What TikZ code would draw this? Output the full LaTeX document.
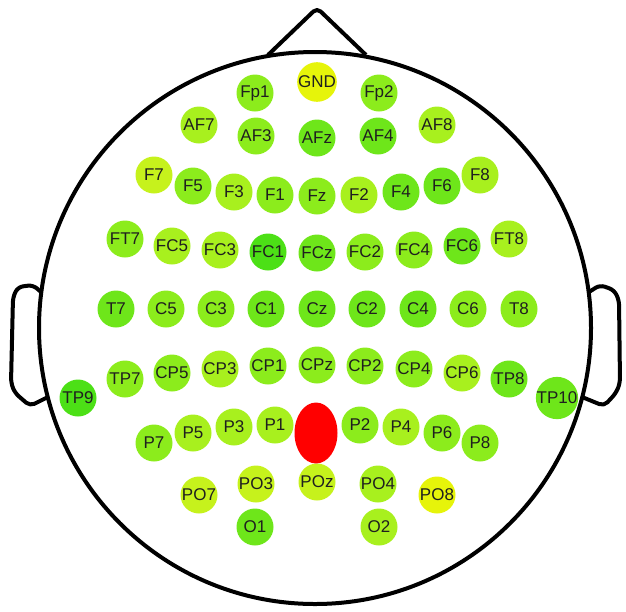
\documentclass[tikz,border=0pt]{standalone}
\usepackage{fontspec}
\setmainfont{Liberation Sans}
\usetikzlibrary{shapes.geometric}
\definecolor{lvA}{HTML}{4CE016}
\definecolor{lvB}{HTML}{6EE61A}
\definecolor{lvC}{HTML}{8CEC1C}
\definecolor{lvD}{HTML}{A8F01E}
\definecolor{lvE}{HTML}{C6F21C}
\definecolor{lvF}{HTML}{E6F40A}
\tikzset{
  outl/.style = {draw=black, line width=4pt, line join=round, rounded corners=5pt},
  elec/.style = {circle, inner sep=0pt, minimum size=37pt,
                 font=\fontsize{17}{17}\selectfont, text=black!88},
  refel/.style= {ellipse, fill=red, inner sep=0pt, minimum width=43pt, minimum height=61pt},
}

\begin{document}
\begin{tikzpicture}[x=1pt, y=-1pt]
\useasboundingbox (0,0) rectangle (626,611);

% head, nose, ears
\draw[outl] (315,328) circle[radius=276];
\draw[outl] (268,55) -- (317,8) -- (366,55);
\draw[outl] (41,292) -- (33,285) -- (18,287) -- (13,297) -- (11,383) -- (15,393) -- (30,406) -- (48,397);
\draw[outl] (589,292) -- (600,285) -- (614,290) -- (619,300) -- (620,383) -- (616,393) -- (604,406) -- (582,397);

% electrodes
\foreach \lbl/\x/\y/\c in {
  GND/317/82/lvF, Fp1/255/93/lvC, Fp2/379/93/lvC,
  AF7/199/125/lvD, AF3/256/136/lvC, AFz/317/138/lvB, AF4/378/136/lvB, AF8/437/125/lvD,
  F7/154/175/lvE, F5/193/186/lvC, F3/234/192/lvD, F1/275/195/lvC, Fz/317/196/lvC,
  F2/359/195/lvD, F4/401/192/lvB, F6/442/186/lvB, F8/480/175/lvD,
  FT7/125/239/lvC, FC5/172/246/lvD, FC3/220/250/lvD, FC1/268/252/lvA, FCz/317/253/lvB,
  FC2/365/252/lvC, FC4/414/250/lvC, FC6/462/246/lvB, FT8/509/239/lvD,
  T7/116/309/lvB, C5/166/309/lvC, C3/216/309/lvC, C1/266/309/lvB, Cz/317/309/lvB,
  C2/367/309/lvB, C4/418/309/lvB, C6/468/309/lvC, T8/519/309/lvC,
  TP9/78/398/lvA, TP7/125/379/lvC, CP5/172/373/lvC, CP3/220/369/lvD, CP1/268/366/lvC,
  CPz/317/365/lvC, CP2/365/366/lvC, CP4/414/369/lvC, CP6/462/373/lvD, TP8/509/379/lvB,
  TP10/557/398/lvB,
  P7/154/443/lvC, P5/193/433/lvD, P3/234/427/lvD, P1/275/425/lvD,
  P2/360/425/lvC, P4/401/427/lvD, P6/442/433/lvC, P8/480/443/lvC,
  PO7/199/495/lvE, PO3/256/484/lvE, POz/317/482/lvE, PO4/378/484/lvD, PO8/437/495/lvF,
  O1/255/527/lvB, O2/379/527/lvD}
  \node[elec, fill=\c] (\lbl) at (\x,\y) {\lbl};

% reference electrode
\node[refel] (Pz) at (316,433) {};
\end{tikzpicture}
\end{document}
